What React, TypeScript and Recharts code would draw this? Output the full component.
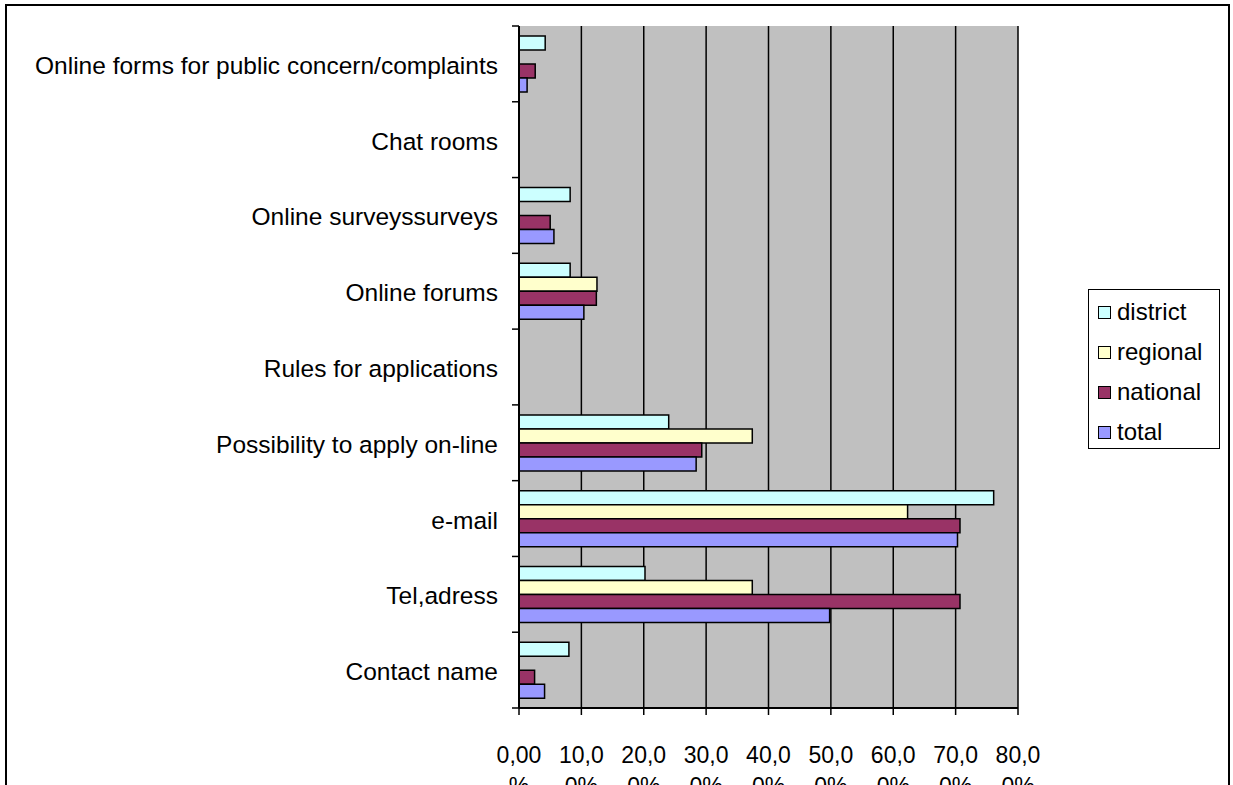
import React from 'react';
import { BarChart, Bar, XAxis, YAxis, CartesianGrid, Legend } from 'recharts';

const categories = [
  'Online forms for public concern/complaints',
  'Chat rooms',
  'Online surveyssurveys',
  'Online forums',
  'Rules for applications',
  'Possibility to apply on-line',
  'e-mail',
  'Tel,adress',
  'Contact name',
];

const district = [4.2, 0, 8.2, 8.2, 0, 24.0, 76.1, 20.2, 8.0];
const regional = [0, 0, 0, 12.5, 0, 37.4, 62.3, 37.4, 0];
const national = [2.6, 0, 5.0, 12.4, 0, 29.3, 70.7, 70.7, 2.5];
const total = [1.3, 0, 5.6, 10.4, 0, 28.4, 70.3, 49.8, 4.1];

const xTicks = [0, 10, 20, 30, 40, 50, 60, 70, 80];
const xTickLines = [
  ['0,00', '%'],
  ['10,0', '0%'],
  ['20,0', '0%'],
  ['30,0', '0%'],
  ['40,0', '0%'],
  ['50,0', '0%'],
  ['60,0', '0%'],
  ['70,0', '0%'],
  ['80,0', '0%'],
];

const series = [
  { key: 'district', name: 'district', color: '#CCFFFF' },
  { key: 'regional', name: 'regional', color: '#FFFFCC' },
  { key: 'national', name: 'national', color: '#993366' },
  { key: 'total', name: 'total', color: '#9999FF' },
];

const data = categories.map((name, i) => ({
  name,
  district: district[i],
  regional: regional[i],
  national: national[i],
  total: total[i],
}));

const FONT = 'Liberation Sans, Arial, sans-serif';
const TOP = 26;
const PLOT_H = 682;
const BAND = PLOT_H / categories.length;

const CategoryTick = (props: any) => {
  const { x, y, payload, index } = props;
  const half = payload && payload.offset ? payload.offset : BAND / 2;
  const axisX = x + 8;
  return (
    <g>
      <line x1={axisX - 7} x2={axisX} y1={y - half} y2={y - half} stroke="#000" strokeWidth={1.5} />
      {index === categories.length - 1 && (
        <line x1={axisX - 7} x2={axisX} y1={y + half} y2={y + half} stroke="#000" strokeWidth={1.5} />
      )}
      <text x={axisX - 21} y={y} dy={10} textAnchor="end" fontSize={24.5} fontFamily={FONT} fill="#000">
        {payload.value}
      </text>
    </g>
  );
};

const ValueTick = (props: any) => {
  const { x, y, index } = props;
  const lines = xTickLines[index] || ['', ''];
  return (
    <g>
      <text x={x} y={y + 46} textAnchor="middle" fontSize={23} fontFamily={FONT} fill="#000">
        {lines[0]}
      </text>
      <text x={x} y={y + 77} textAnchor="middle" fontSize={23} fontFamily={FONT} fill="#000">
        {lines[1]}
      </text>
    </g>
  );
};

const LegendBox = () => (
  <div
    style={{
      border: '1.5px solid #000',
      background: '#fff',
      width: 132,
      height: 160,
      boxSizing: 'border-box',
      padding: '2px 0 0 9px',
      fontFamily: FONT,
      fontSize: 24,
      lineHeight: '40px',
    }}
  >
    {series.map((s) => (
      <div key={s.key} style={{ display: 'flex', alignItems: 'center', height: 40 }}>
        <span
          style={{
            display: 'inline-block',
            width: 11,
            height: 11,
            background: s.color,
            border: '1.5px solid #000',
            marginRight: 6,
          }}
        />
        <span>{s.name}</span>
      </div>
    ))}
  </div>
);

export default function App() {
  return (
    <div style={{ position: 'absolute', left: 0, top: 0, width: 1233, height: 785, background: '#fff', overflow: 'hidden' }}>
      <div
        style={{
          position: 'absolute',
          left: 5,
          top: 4,
          width: 1225,
          height: 800,
          border: '2.5px solid #000',
          boxSizing: 'border-box',
        }}
      />
      <BarChart
        width={1233}
        height={785}
        data={data}
        layout="vertical"
        margin={{ top: TOP, right: 215, left: 0, bottom: 0 }}
        barSize={14}
        barGap={0}
        style={{ position: 'absolute', left: 0, top: 0 }}
      >
        <CartesianGrid fill="#C0C0C0" stroke="#000" strokeWidth={1.5} horizontal={false} vertical={true} />
        <XAxis
          type="number"
          domain={[0, 80]}
          ticks={xTicks}
          interval={0}
          height={77}
          axisLine={{ stroke: '#000', strokeWidth: 2 }}
          tickLine={{ stroke: '#000', strokeWidth: 1.5 }}
          tickSize={7}
          tick={<ValueTick />}
        />
        <YAxis
          type="category"
          dataKey="name"
          width={519}
          interval={0}
          axisLine={{ stroke: '#000', strokeWidth: 2 }}
          tickLine={false}
          tick={<CategoryTick />}
        />
        <Legend
          layout="vertical"
          align="center"
          verticalAlign="middle"
          content={<LegendBox />}
          wrapperStyle={{ left: 1088, top: 289, width: 132, height: 160 }}
        />
        {series.map((s) => (
          <Bar
            key={s.key}
            dataKey={s.key}
            name={s.name}
            fill={s.color}
            stroke="#000"
            strokeWidth={1.5}
            isAnimationActive={false}
          />
        ))}
      </BarChart>
    </div>
  );
}
